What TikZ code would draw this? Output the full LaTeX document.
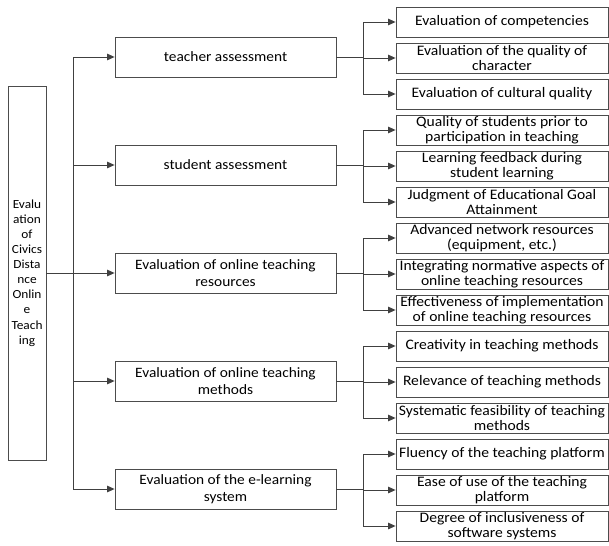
\documentclass[tikz,border=0pt]{standalone}
\usepackage{fontspec}
\setmainfont{Carlito}[FakeStretch=1.076]
\usetikzlibrary{arrows.meta}
\begin{document}
\begin{tikzpicture}[x=1pt,y=-1pt,
  box/.style={draw=black!70,line width=0.8pt,align=center,inner sep=0pt},
  mainbox/.style={box,minimum width=221pt,minimum height=40pt,font=\fontsize{14.3}{17}\selectfont},
  subbox/.style={box,minimum width=212pt,minimum height=30pt,font=\fontsize{14.5}{15}\selectfont},
  link/.style={draw=black!75,line width=0.9pt,-{Triangle[length=7.5pt,width=6.5pt]}}]
\useasboundingbox (0,0) rectangle (609,545);
% root
\node[box,minimum width=38pt,minimum height=374pt,font=\fontsize{12.4}{15.1}\selectfont] (root) at (27,273)
  {Evalu\\ation\\of\\Civics\\Dista\\nce\\Onlin\\e\\Teach\\ing};
% first level
\node[mainbox] (teacher) at (225.5,57) {teacher assessment};
\node[mainbox] (student) at (225.5,165) {student assessment};
\node[mainbox] (resource) at (225.5,273) {Evaluation of online teaching\\resources};
\node[mainbox] (method) at (225.5,381) {Evaluation of online teaching\\methods};
\node[mainbox] (system) at (225.5,489) {Evaluation of the e-learning\\system};
% second level
\node[subbox] (t1) at (502,22) {Evaluation of competencies};
\node[subbox] (t2) at (502,58) {Evaluation of the quality of\\character};
\node[subbox] (t3) at (502,94) {Evaluation of cultural quality};
\node[subbox] (s1) at (502,130) {Quality of students prior to\\participation in teaching};
\node[subbox] (s2) at (502,166) {Learning feedback during\\student learning};
\node[subbox] (s3) at (502,202) {Judgment of Educational Goal\\Attainment};
\node[subbox] (r1) at (502,238) {Advanced network resources\\(equipment, etc.)};
\node[subbox] (r2) at (502,274) {Integrating normative aspects of\\online teaching resources};
\node[subbox] (r3) at (502,310) {Effectiveness of implementation\\of online teaching resources};
\node[subbox] (m1) at (502,346) {Creativity in teaching methods};
\node[subbox] (m2) at (502,382) {Relevance of teaching methods};
\node[subbox] (m3) at (502,418) {Systematic feasibility of teaching\\methods};
\node[subbox] (e1) at (502,454) {Fluency of the teaching platform};
\node[subbox] (e2) at (502,490) {Ease of use of the teaching\\platform};
\node[subbox] (e3) at (502,526) {Degree of inclusiveness of\\software systems};
% root to first level
\draw[link] (root.east) -- ++(27,0) |- (teacher.west);
\draw[link] (root.east) -- ++(27,0) |- (student.west);
\draw[link] (root.east) -- (resource.west);
\draw[link] (root.east) -- ++(27,0) |- (method.west);
\draw[link] (root.east) -- ++(27,0) |- (system.west);
% first level to second level
\draw[link] (teacher.east) -- ++(27,0) |- (t1.west);
\draw[link] (teacher.east) -- ++(27,0) |- (t2.west);
\draw[link] (teacher.east) -- ++(27,0) |- (t3.west);
\draw[link] (student.east) -- ++(27,0) |- (s1.west);
\draw[link] (student.east) -- ++(27,0) |- (s2.west);
\draw[link] (student.east) -- ++(27,0) |- (s3.west);
\draw[link] (resource.east) -- ++(27,0) |- (r1.west);
\draw[link] (resource.east) -- ++(27,0) |- (r2.west);
\draw[link] (resource.east) -- ++(27,0) |- (r3.west);
\draw[link] (method.east) -- ++(27,0) |- (m1.west);
\draw[link] (method.east) -- ++(27,0) |- (m2.west);
\draw[link] (method.east) -- ++(27,0) |- (m3.west);
\draw[link] (system.east) -- ++(27,0) |- (e1.west);
\draw[link] (system.east) -- ++(27,0) |- (e2.west);
\draw[link] (system.east) -- ++(27,0) |- (e3.west);
\end{tikzpicture}
\end{document}
